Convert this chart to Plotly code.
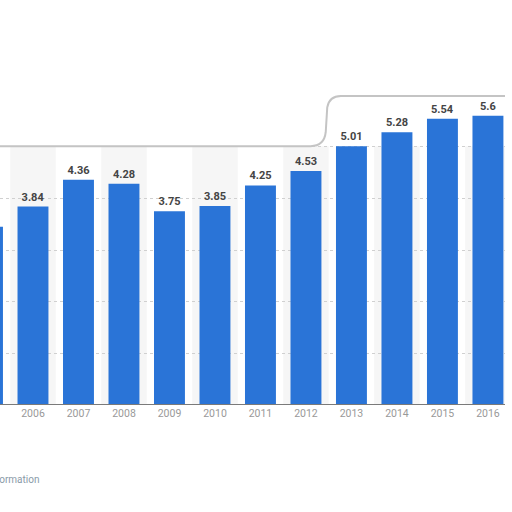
import plotly.graph_objects as go

years = [2005, 2006, 2007, 2008, 2009, 2010, 2011, 2012, 2013, 2014, 2015, 2016]
values = [3.45, 3.84, 4.36, 4.28, 3.75, 3.85, 4.25, 4.53, 5.01, 5.28, 5.54, 5.6]
labels = ["3.45", "3.84", "4.36", "4.28", "3.75", "3.85", "4.25", "4.53", "5.01", "5.28", "5.54", "5.6"]
tick_text = [str(y) for y in years]

BLUE = "#2a74d7"

fig = go.Figure()
fig.add_trace(go.Bar(
    x=years, y=values, width=0.68,
    marker=dict(color=BLUE, line=dict(width=0)),
    text=["<b>%s</b>" % t for t in labels], textposition="outside",
    textfont=dict(family="Roboto, Arial, sans-serif", size=11, color="#444444"),
    cliponaxis=False,
))

shapes = []
# alternating column shading
for y in years:
    if y % 2 == 0:
        shapes.append(dict(type="rect", xref="x", yref="paper", x0=y - 0.5, x1=y + 0.5,
                           y0=0, y1=0.835, fillcolor="#f6f6f6", line=dict(width=0), layer="below"))
# top frame
shapes.append(dict(type="path", xref="paper", yref="paper",
                   path="M 0,0.835 L 0.615,0.835 Q 0.642,0.835 0.645,0.88 L 0.648,0.96 Q 0.652,0.997 0.675,0.997 L 1,0.997",
                   line=dict(color="#c4c4c4", width=2), layer="above"))
# baseline
shapes.append(dict(type="line", xref="paper", yref="y", x0=0, x1=1, y0=0, y1=0,
                   line=dict(color="#7a7a7a", width=2)))

fig.update_layout(
    width=512, height=512,
    margin=dict(l=0, r=7, t=95, b=107, autoexpand=False),
    paper_bgcolor="white", plot_bgcolor="white",
    showlegend=False,
    shapes=shapes,
    xaxis=dict(range=[2005.275, 2016.375], tickmode="array", tickvals=years, ticktext=tick_text,
               showgrid=False, zeroline=False, showline=False, ticks="",
               tickfont=dict(family="Roboto, Arial, sans-serif", size=10.5, color="#999999")),
    yaxis=dict(range=[0, 6], showticklabels=False, showgrid=True, gridcolor="#d0d0d0",
               griddash="dot", gridwidth=1, dtick=1, zeroline=False, showline=False),
    annotations=[dict(text="Additional Information", xref="paper", yref="paper",
                      x=41 / 505, y=(405 - 479) / 310, xanchor="right", yanchor="middle",
                      showarrow=False,
                      font=dict(family="Roboto, Arial, sans-serif", size=10, color="#8a9aa8"))],
)

fig.write_html("out.html", config={"displayModeBar": False},
               post_script="document.body.style.margin='0';")
